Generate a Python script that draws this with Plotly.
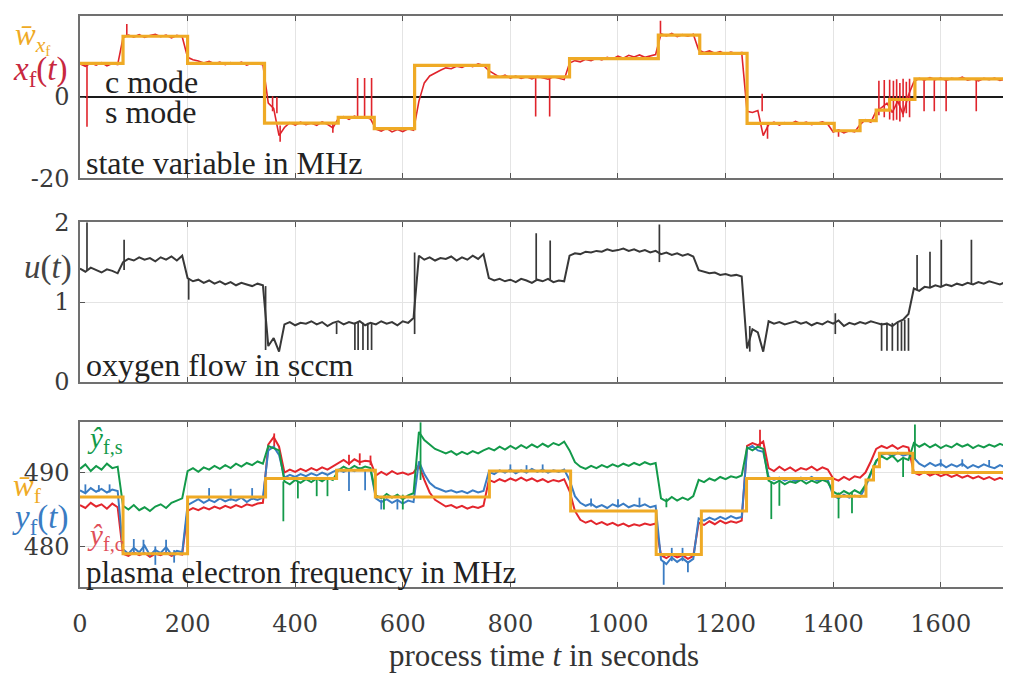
import plotly.graph_objects as go

# ---------------- data ----------------
sample_t = [10 * i for i in range(173)]  # sample times in seconds, 0..1720

# top panel: state variable x_f(t) in MHz
x_f = [
    8.2, 7.6, 8.4, 7.9, 8.5, 7.7, 8.3, 8.0,
    14.6, 15.3, 14.8, 15.4, 14.7, 15.2, 15.5, 14.9, 15.3, 14.6, 15.2, 14.9,
    9.8, 9.2, 8.9, 8.4, 8.8, 8.2, 8.6, 8.0, 8.5, 8.1, 8.6, 7.9, 8.4, 8.2, 8.0,
    -1.5, -2.8, -9.5, -7.5, -6.3, -6.9, -6.2, -6.8, -6.4, -7.0, -6.1, -6.7, -7.6,
    -5.3, -4.8, -5.5, -4.7, -5.2, -4.9, -5.4,
    -7.9, -8.4, -7.7, -8.6, -8.0, -8.5, -7.8, -8.2,
    -1.0, 3.5, 5.2, 6.0, 6.6, 7.2, 7.0, 7.6, 7.3, 7.9, 7.5, 8.2, 7.8,
    6.5, 5.6, 4.9, 5.4, 4.7, 5.2, 4.6, 5.0, 4.5, 5.1, 4.8, 4.4, 5.0, 4.6, 4.3,
    8.4, 9.0, 8.7, 9.3, 9.0, 9.6, 9.2, 9.8, 9.4, 10.1, 9.6, 10.3, 9.9, 10.4, 9.8, 10.2, 10.5,
    15.6, 15.1, 15.7, 14.9, 15.4, 15.0, 15.5,
    11.6, 11.0, 11.4, 10.8, 11.2, 10.6, 11.1, 10.7, 11.0,
    -3.5, -3.8, -3.3, -9.5, -6.8, -6.2, -6.9, -6.3, -6.7, -6.0, -6.6, -6.2, -6.8, -6.4, -6.1, -6.7,
    -8.6, -8.1, -8.8, -8.3, -8.6, -6.8, -5.6, -6.2, -3.4, -2.6, -1.5, -3.8, -1.0, -4.2, 0.5,
    3.8, 4.6, 4.2, 4.8, 4.3, 4.7, 4.1, 4.6, 4.4, 4.9, 4.2, 4.5, 4.0, 4.6, 4.3, 4.7, 4.1, 4.4,
]
xf_spike_t = [13, 87, 358, 366, 372, 470, 516, 529, 542, 847, 873, 1079, 1268, 1278, 1410,
              1485, 1495, 1505, 1512, 1518, 1524, 1530, 1536, 1542, 1569, 1588, 1610, 1666]
xf_spike_lo = [-7.3, 15.0, -3.5, -4.0, -11.0, -8.8, -5.0, -5.0, -5.0, -4.8, -4.8, 15.0, -3.5, -10.3, -9.8,
               -4.5, -5.0, -5.5, -5.8, -5.6, -6.0, -5.0, -4.0, -5.0, -3.5, -3.5, -3.5, -3.5]
xf_spike_hi = [8.0, 18.0, 0.2, 0.0, -7.0, -6.5, 4.7, 4.7, 4.7, 5.0, 5.0, 18.8, 0.8, -6.5, -8.0,
               4.0, 4.2, 4.3, 4.0, 4.4, 3.5, 4.5, 3.8, 4.5, 4.5, 4.5, 4.5, 4.5]
# setpoint of the state variable (step signal)
wx_t = [0, 80, 200, 343, 480, 547, 622, 760, 910, 1075, 1152, 1240, 1402, 1450, 1480, 1505, 1552, 1725]
wx_v = [8.3, 15.0, 8.3, -6.4, -5.0, -7.8, 7.8, 5.0, 9.5, 15.3, 10.8, -6.5, -8.3, -5.8, -3.2, -0.6, 4.5, 4.5]

# middle panel: oxygen flow u(t) in sccm
u = [
    1.42, 1.38, 1.43, 1.40, 1.37, 1.41, 1.39, 1.36,
    1.50, 1.54, 1.52, 1.56, 1.53, 1.55, 1.51, 1.56, 1.53, 1.57, 1.52, 1.58,
    1.30, 1.26, 1.28, 1.24, 1.27, 1.23, 1.26, 1.22, 1.25, 1.21, 1.24, 1.22, 1.20, 1.23, 1.21,
    0.45, 0.55, 0.38, 0.72, 0.75, 0.71, 0.74, 0.73, 0.76, 0.72, 0.75, 0.70, 0.74,
    0.76, 0.72, 0.75, 0.73, 0.76, 0.71, 0.74,
    0.72, 0.76, 0.73, 0.75, 0.71, 0.76, 0.74, 0.80,
    1.58, 1.53, 1.56, 1.52, 1.55, 1.54, 1.57, 1.52, 1.56, 1.53, 1.58, 1.54, 1.60,
    1.30, 1.27, 1.29, 1.26, 1.28, 1.25, 1.29, 1.27, 1.24, 1.28, 1.26, 1.29, 1.25, 1.27, 1.26,
    1.58, 1.61, 1.60, 1.63, 1.62, 1.64, 1.63, 1.66, 1.64, 1.65, 1.67, 1.64, 1.66, 1.63, 1.65, 1.62, 1.64,
    1.60, 1.62, 1.59, 1.61, 1.58, 1.60, 1.57,
    1.40, 1.38, 1.36, 1.37, 1.34, 1.35, 1.33, 1.34, 1.32,
    0.42, 0.66, 0.62, 0.38, 0.76, 0.73, 0.75, 0.72, 0.74, 0.76, 0.73, 0.75, 0.71, 0.74, 0.72, 0.76,
    0.73, 0.77, 0.70, 0.74, 0.72, 0.75, 0.73, 0.76, 0.74, 0.72, 0.73, 0.70, 0.75, 0.78, 0.85,
    1.17, 1.14, 1.19, 1.18, 1.21, 1.19, 1.22, 1.20, 1.23, 1.21, 1.24, 1.22, 1.25, 1.23, 1.26, 1.24, 1.22, 1.25,
]
u_spike_t = [13, 82, 202, 345, 477, 511, 517, 526, 535, 542, 622, 848, 874, 1077, 1245, 1404,
             1490, 1500, 1510, 1520, 1527, 1533, 1540, 1556, 1580, 1601, 1657]
u_spike_lo = [1.40, 1.40, 1.03, 0.40, 0.60, 0.40, 0.40, 0.40, 0.40, 0.40, 0.60, 1.28, 1.28, 1.50, 0.38, 0.60,
              0.39, 0.39, 0.39, 0.39, 0.39, 0.39, 0.39, 1.15, 1.18, 1.20, 1.22]
u_spike_hi = [2.00, 1.78, 1.30, 1.20, 0.74, 0.74, 0.74, 0.74, 0.74, 0.74, 1.62, 1.86, 1.77, 1.97, 0.70, 0.86,
              0.74, 0.74, 0.74, 0.74, 0.76, 0.78, 0.80, 1.59, 1.63, 1.78, 1.78]

# bottom panel: plasma electron frequency in MHz
y_f = [
    487.6, 487.2, 487.9, 487.4, 487.8, 487.3, 487.7, 487.5,
    479.6, 479.0, 479.8, 479.2, 480.1, 478.8, 479.5, 479.1, 479.9, 478.9, 479.4, 479.2,
    485.6, 486.0, 486.4, 485.9, 486.3, 486.0, 486.5, 486.1, 486.4, 486.2, 486.6, 486.0, 486.5, 486.3, 486.6,
    493.0, 493.5, 492.4, 489.3, 489.7, 489.4, 489.8, 489.5, 489.9, 489.6, 490.0, 489.7, 490.1,
    490.4, 490.1, 490.5, 490.2, 490.6, 490.3, 490.4,
    486.5, 486.0, 486.4, 485.9, 486.3, 485.8, 486.2, 486.0,
    491.5, 489.8, 488.6, 488.0, 487.7, 487.4, 487.6, 487.3, 487.5, 487.2, 487.6, 487.3, 487.5,
    490.1, 489.8, 490.3, 490.0, 490.4, 489.9, 490.3, 490.0, 490.5, 490.1, 490.4, 490.0, 490.3, 490.1, 490.4,
    489.0, 486.8, 485.9, 485.5, 485.8, 485.3, 485.6, 485.2, 485.7, 485.4, 485.8, 485.3, 485.6, 485.4, 485.7, 485.3, 485.5,
    478.2, 477.6, 478.5, 477.9, 478.4, 477.8, 478.3,
    483.8, 483.5, 483.9, 483.6, 484.0, 483.7, 484.1, 483.8, 484.0,
    493.2, 493.6, 493.0, 492.8, 489.4, 489.0, 489.3, 488.9, 489.2, 488.8, 489.3, 489.0, 489.4, 488.9, 489.2, 489.0,
    486.9, 486.5, 487.0, 486.6, 486.9, 486.7, 488.0, 489.8, 491.5, 492.4, 492.6, 492.2, 492.7, 492.3, 492.5,
    492.0, 491.2, 490.8, 491.3, 490.9, 491.2, 490.7, 491.1, 490.8, 491.2, 490.6, 491.0, 490.7, 491.1, 490.8, 490.6, 491.0, 490.7,
]
yf_spike_t = [10, 35, 55, 100, 118, 140, 160, 175, 240, 280, 320, 500, 530, 560, 590, 800, 830, 860,
              950, 1000, 1040, 1085, 1100, 1120, 1130, 1600, 1640, 1690]
yf_spike_lo = [487.3, 487.4, 487.3, 479.0, 479.0, 477.5, 479.0, 477.8, 486.2, 486.2, 486.3, 487.5, 487.6,
               485.0, 485.0, 490.0, 490.0, 490.0, 485.4, 485.4, 485.4, 474.8, 478.0, 478.0, 476.5,
               490.8, 490.8, 490.8]
yf_spike_hi = [488.4, 488.3, 488.4, 481.0, 480.9, 480.0, 480.9, 479.5, 487.9, 487.8, 487.9, 490.3, 490.3,
               486.3, 486.2, 491.1, 491.0, 491.1, 486.5, 486.4, 486.6, 478.0, 479.8, 479.8, 478.0,
               491.8, 491.8, 491.7]

y_hat_s = [
    490.5, 491.1, 490.2, 490.9, 490.4, 491.2, 490.6, 490.8,
    485.5, 485.0, 485.6, 484.9, 485.3, 484.8, 485.4, 485.7, 485.2, 485.9, 486.2, 486.5,
    490.2, 490.6, 490.1, 490.7, 490.4, 490.9, 490.5, 491.0, 490.6, 491.2, 490.8, 491.3, 491.0, 491.5, 491.2,
    493.6, 493.3, 493.0, 488.8, 488.4, 489.0, 488.6, 489.1, 488.7, 489.2, 488.8, 489.3, 489.0,
    490.3, 490.8, 490.4, 490.9, 490.5, 490.8, 490.6,
    486.9, 486.5, 487.1, 486.6, 487.0, 486.4, 486.9, 487.2,
    495.5, 494.4, 493.8, 493.2, 492.9, 492.6, 492.9, 492.4, 492.8, 492.5, 492.9, 492.6, 493.0,
    493.3, 493.0, 493.5, 493.1, 493.6, 493.2, 493.7, 493.3, 493.8, 493.4, 493.9, 493.5, 494.0, 493.7, 494.2,
    493.0, 491.4, 490.8, 490.5, 490.9, 490.6, 491.0, 490.7, 491.1, 490.8, 491.2, 490.9, 491.3, 491.0, 491.4, 491.1, 491.3,
    486.5, 486.1, 486.7, 486.2, 486.6, 486.3, 486.8,
    489.0, 488.7, 489.2, 488.9, 489.4, 489.1, 489.5, 489.3, 489.6,
    493.4, 493.0, 493.5, 493.2, 488.9, 488.5, 488.9, 488.4, 488.8, 488.6, 489.0, 488.5, 488.9, 488.6, 489.0, 488.7,
    487.4, 487.0, 487.5, 487.1, 487.6, 487.2, 488.3, 490.0, 491.6, 492.2, 491.8, 492.3, 491.5, 492.0, 491.7,
    494.0, 493.5, 493.9, 493.4, 493.8, 493.3, 493.7, 493.4, 493.9, 493.5, 493.8, 493.3, 493.7, 493.4, 493.8, 493.5, 493.9, 493.6,
]
ys_spike_t = [378, 405, 440, 460, 565, 600, 633, 1090, 1285, 1300, 1410, 1435, 1530, 1552]
ys_spike_lo = [483.4, 486.5, 486.8, 486.8, 485.0, 485.0, 489.0, 485.3, 483.7, 485.5, 483.8, 484.5, 489.4, 491.8]
ys_spike_hi = [488.8, 488.8, 489.0, 489.0, 486.8, 487.0, 496.8, 486.5, 488.8, 488.7, 487.3, 487.3, 492.0, 496.5]

y_hat_c = [
    485.6, 485.2, 485.9, 485.4, 485.7, 485.1, 485.8, 485.3,
    479.0, 478.7, 479.2, 478.8, 479.1, 478.6, 479.0, 478.8, 479.2, 478.7, 479.0, 478.9,
    484.8, 485.2, 484.9, 485.3, 485.0, 485.4, 485.1, 485.5, 485.2, 485.6, 485.3, 485.7, 485.5, 485.8, 485.9,
    493.8, 494.8, 493.5, 490.0, 490.4, 490.1, 490.5, 490.2, 490.6, 490.3, 490.7, 490.4, 490.8,
    491.3, 491.7, 491.2, 491.8, 491.4, 491.6, 491.5,
    489.6, 490.1, 489.7, 490.2, 489.8, 490.0, 489.7, 490.0,
    491.0, 489.0, 487.3, 486.3, 485.8, 485.4, 485.6, 485.2, 485.5, 485.1, 485.4, 485.2, 485.5,
    489.0, 488.7, 489.1, 488.8, 489.2, 488.9, 489.3, 488.9, 489.2, 488.8, 489.1, 488.7, 489.0, 488.8, 489.1,
    487.5, 484.8, 483.6, 483.2, 483.5, 483.0, 483.3, 482.9, 483.2, 482.8, 483.1, 482.7, 483.0, 482.8, 483.1, 482.9, 483.1,
    478.8, 478.4, 478.9, 478.5, 478.8, 478.3, 478.7,
    483.2, 482.9, 483.4, 483.0, 483.5, 483.1, 483.4, 483.2, 483.5,
    493.6, 494.0, 493.7, 494.2, 490.6, 490.2, 490.8, 490.3, 490.7, 490.2, 490.6, 490.4, 490.8, 490.3, 490.7, 490.4,
    489.2, 488.9, 489.4, 489.0, 489.5, 489.3, 490.0, 491.5, 493.2, 493.6, 493.3, 493.7, 493.2, 493.6, 493.4,
    490.0, 489.7, 490.1, 489.6, 489.9, 489.5, 489.8, 489.4, 489.7, 489.3, 489.6, 489.2, 489.5, 489.1, 489.4, 489.0, 489.3, 489.0,
]
yc_spike_t = [361, 500, 520, 540, 1264]
yc_spike_lo = [493.5, 491.0, 491.0, 491.0, 493.5]
yc_spike_hi = [495.3, 492.4, 492.6, 492.3, 495.8]

# setpoint of the plasma electron frequency (step signal)
wf_t = [0, 80, 200, 345, 477, 549, 761, 912, 1071, 1155, 1239, 1399, 1461, 1475, 1486, 1548, 1725]
wf_v = [486.7, 479.0, 486.7, 489.2, 490.3, 486.7, 490.2, 484.8, 478.9, 484.8, 489.2, 486.8, 489.0,
        490.8, 492.6, 490.0, 490.0]

x_ticks = [0, 200, 400, 600, 800, 1000, 1200, 1400, 1600]
top_ticks = [-20, 0, 20]
top_ticktext = ["-20", "0", "20"]
mid_ticks = [0, 1, 2]
bot_ticks = [480, 490]

# ---------------- styling ----------------
C_RED = "#E0242C"
C_ORANGE = "#EFAA25"
C_GRAY = "#383838"
C_BLUE = "#3A7CC3"
C_GREEN = "#139A4A"
C_RED2 = "#E3262D"
FONT_TICK = "DejaVu Serif"
FONT = "Liberation Serif"


def spikes(ts, lo, hi):
    xs, ys = [], []
    for a, b, c in zip(ts, lo, hi):
        xs += [a, a, None]
        ys += [b, c, None]
    return xs, ys


fig = go.Figure()


def add_series(t, v, color, width, axis, shape="linear"):
    fig.add_trace(go.Scatter(x=t, y=v, mode="lines", line=dict(color=color, width=width, shape=shape),
                             xaxis=axis[0], yaxis=axis[1], showlegend=False, hoverinfo="skip",
                             connectgaps=False))


TOP = ("x", "y")
MID = ("x2", "y2")
BOT = ("x3", "y3")

# top
add_series(sample_t, x_f, C_RED, 1.6, TOP)
sx, sy = spikes(xf_spike_t, xf_spike_lo, xf_spike_hi)
add_series(sx, sy, C_RED, 1.6, TOP)
add_series(wx_t, wx_v, C_ORANGE, 3.2, TOP, "hv")

# middle
add_series(sample_t, u, C_GRAY, 2.0, MID)
sx, sy = spikes(u_spike_t, u_spike_lo, u_spike_hi)
add_series(sx, sy, C_GRAY, 1.7, MID)

# bottom
add_series(sample_t, y_hat_c, C_RED2, 2.0, BOT)
sx, sy = spikes(yc_spike_t, yc_spike_lo, yc_spike_hi)
add_series(sx, sy, C_RED2, 1.8, BOT)
add_series(sample_t, y_f, C_BLUE, 2.0, BOT)
sx, sy = spikes(yf_spike_t, yf_spike_lo, yf_spike_hi)
add_series(sx, sy, C_BLUE, 1.8, BOT)
add_series(sample_t, y_hat_s, C_GREEN, 2.0, BOT)
sx, sy = spikes(ys_spike_t, ys_spike_lo, ys_spike_hi)
add_series(sx, sy, C_GREEN, 1.8, BOT)
add_series(wf_t, wf_v, C_ORANGE, 3.0, BOT, "hv")

frame = dict(showline=True, linecolor="#707070", linewidth=1.5, mirror="ticks",
             ticks="inside", ticklen=5, tickcolor="#555555", tickwidth=1,
             gridcolor="#e4e4e4", gridwidth=1, automargin=False,
             tickfont=dict(family=FONT_TICK, size=24, color="#3a3a3a"))

xcommon = dict(range=[0, 1725], tickvals=x_ticks, showgrid=True, zeroline=False, **frame)

D_TOP = [0.716, 1.0]
D_MID = [0.359, 0.639]
D_BOT = [0.0, 0.289]

# the page body adds an 8 px margin, so the figure is made 8 px smaller on each side
fig.update_layout(
    width=1003, height=669,
    margin=dict(l=72, r=3, t=8, b=90),
    paper_bgcolor="white", plot_bgcolor="white",
    font=dict(family=FONT, color="#222222"),
    xaxis=dict(anchor="y", showticklabels=False, matches="x3", **xcommon),
    xaxis2=dict(anchor="y2", showticklabels=False, matches="x3", **xcommon),
    xaxis3=dict(anchor="y3", ticklabelstandoff=14,
                title=dict(text="process time <i>t</i> in seconds",
                           font=dict(family=FONT, size=31, color="#333333"), standoff=4),
                **xcommon),
    yaxis=dict(domain=D_TOP, range=[-20, 20], tickvals=top_ticks, ticktext=top_ticktext,
               showgrid=False, anchor="x", ticklabelstandoff=4,
               zeroline=True, zerolinecolor="#1a1a1a", zerolinewidth=1.5, **frame),
    yaxis2=dict(domain=D_MID, range=[0, 2], tickvals=mid_ticks, showgrid=True, anchor="x2",
                ticklabelstandoff=4, zeroline=False, **frame),
    yaxis3=dict(domain=D_BOT, range=[474.5, 496.85], tickvals=bot_ticks, showgrid=True, anchor="x3",
                ticklabelstandoff=4, zeroline=False, **frame),
)

ann = []


def label(text, x, y, color, size, xanchor="center"):
    ann.append(dict(text=text, x=x, y=y, xref="paper", yref="paper", xanchor=xanchor, yanchor="middle",
                    showarrow=False, font=dict(family=FONT, size=size, color=color)))


# y-axis labels (colored, left of the axes)
label("<i>w̄</i><sub><i>x</i><sub>f</sub></sub>", -0.051, 0.962, C_ORANGE, 31)
label("<i>x</i><sub>f</sub>(<i>t</i>)", -0.043, 0.902, "#C8283F", 33)
label("<i>u</i>(<i>t</i>)", -0.035, 0.559, "#444444", 33)
label("<i>w̄</i><sub>f</sub>", -0.057, 0.173, C_ORANGE, 31)
label("<i>y</i><sub>f</sub>(<i>t</i>)", -0.043, 0.118, C_BLUE, 33)
# labels inside the panels
label("<i>ŷ</i><sub>f,s</sub>", 0.005, 0.257, C_GREEN, 29, "left")
label("<i>ŷ</i><sub>f,c</sub>", 0.005, 0.088, "#E0505A", 29, "left")
label("c mode", 0.0248, 0.884, "#222222", 32, "left")
label("s mode", 0.0248, 0.832, "#222222", 32, "left")
label("state variable in MHz", 0.004, 0.743, "#222222", 32, "left")
label("oxygen flow in sccm", 0.004, 0.389, "#222222", 32, "left")
label("plasma electron frequency in MHz", 0.004, 0.026, "#222222", 31, "left")
fig.update_layout(annotations=ann)

fig.write_html("out.html")
